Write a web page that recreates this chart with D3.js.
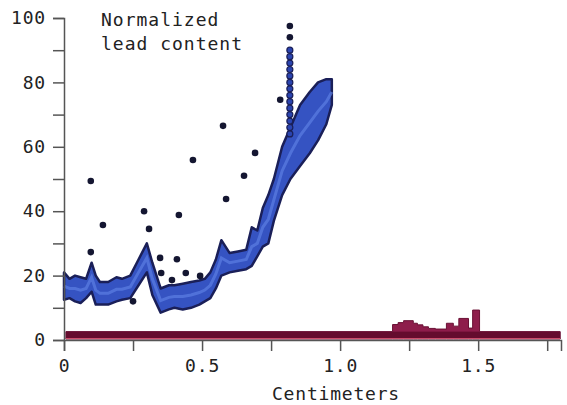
<!DOCTYPE html>
<html>
<head>
<meta charset="utf-8">
<script src="https://cdn.jsdelivr.net/npm/d3@7"></script>
<style>
  body { margin: 0; background: #fff; }
  text { font-family: "DejaVu Sans Mono", monospace; fill: #222; }
</style>
</head>
<body>
<div id="chart"></div>
<script>
// Blue band: sampled positions (cm) with upper / lower edge values
var bandX = [0, 0.02, 0.04, 0.06, 0.08, 0.10, 0.115, 0.13, 0.16, 0.19, 0.21, 0.24, 0.27, 0.30, 0.32, 0.35,
  0.38, 0.40, 0.43, 0.46, 0.49, 0.51, 0.53, 0.55, 0.57, 0.60, 0.63, 0.66, 0.68, 0.70, 0.72, 0.74,
  0.76, 0.79, 0.82, 0.855, 0.89, 0.92, 0.95, 0.97];
var bandUpper = [21, 19, 20, 19.5, 19, 24, 20, 18, 18, 19.5, 19, 20, 25, 30, 24, 16,
  17, 17, 17.5, 18, 18.5, 19, 21, 25, 31, 27, 27.5, 28, 35, 34, 41, 45,
  50, 60, 66, 73, 77, 80, 81, 81];
var bandLower = [12.5, 13, 12, 11.5, 13, 15, 11, 11, 11, 12, 12.5, 13, 17, 21, 14, 8.5,
  9.5, 10, 9.5, 10, 11, 12, 13, 16, 20, 21, 21.5, 22, 23, 26, 29, 30,
  37, 45, 50, 54, 58, 62, 67, 73];

// Column of points at ~0.82 cm
var spikeX = 0.818;
var spikeValues = [90, 88, 86, 84, 82, 80, 78, 76, 74, 72, 70, 68, 66, 64];

// Dark outlier dots
var dotX = [0.097, 0.141, 0.097, 0.290, 0.308, 0.348, 0.416, 0.409, 0.391, 0.441, 0.352, 0.467,
  0.576, 0.587, 0.652, 0.692, 0.783, 0.818, 0.818, 0.25, 0.493];
var dotY = [49.4, 35.7, 27.3, 40, 34.5, 25.5, 38.8, 25.1, 18.6, 20.8, 20.8, 55.9,
  66.5, 43.8, 51, 58.1, 74.6, 97.5, 94, 12, 19.9];

// Maroon lead trace (step starts in cm, heights)
var leadX = [0.007, 1.19, 1.21, 1.23, 1.265, 1.28, 1.30, 1.32, 1.345, 1.385, 1.41, 1.43, 1.465, 1.48, 1.505, 1.797];
var leadY = [2.6, 4.8, 5.4, 6.0, 5.2, 4.7, 4.1, 3.6, 3.4, 5.2, 4.3, 6.7, 3.7, 9.3, 2.6, 2.6];
var leadBase = 0.3;

var xTicks = [0, 0.25, 0.5, 0.75, 1.0, 1.25, 1.5, 1.75];
var xLabels = { 0: "0", 0.5: "0.5", 1: "1.0", 1.5: "1.5" };
var yTicks = [0, 10, 20, 30, 40, 50, 60, 70, 80, 90, 100];

var width = 567, height = 405;
var svg = d3.select("#chart").append("svg")
  .attr("width", width).attr("height", height);

var x = d3.scaleLinear().domain([0, 1.8]).range([64, 561]);
var y = d3.scaleLinear().domain([0, 100]).range([340, 18]);

// Lead trace
var lead = leadX.map(function (d, i) { return { x: d, y: leadY[i] }; });
svg.append("path")
  .datum(lead)
  .attr("d", d3.area()
    .curve(d3.curveStepAfter)
    .x(function (d) { return x(d.x); })
    .y0(y(leadBase))
    .y1(function (d) { return y(d.y); }))
  .attr("fill", "#8e1d4b")
  .attr("stroke", "#6a1034")
  .attr("stroke-width", 1);
svg.append("rect")
  .attr("x", x(leadX[0])).attr("y", y(leadY[0]))
  .attr("width", x(leadX[leadX.length - 1]) - x(leadX[0]))
  .attr("height", y(leadBase) - y(leadY[0]))
  .attr("fill", "#650c2e");
svg.append("line")
  .attr("x1", x(leadX[0])).attr("x2", x(leadX[leadX.length - 1]))
  .attr("y1", y(leadBase) - 0.5).attr("y2", y(leadBase) - 0.5)
  .attr("stroke", "#d0506e").attr("stroke-width", 1);

// Blue band
var band = bandX.map(function (d, i) { return { x: d, hi: bandUpper[i], lo: bandLower[i] }; });
svg.append("path")
  .datum(band)
  .attr("d", d3.area()
    .x(function (d) { return x(d.x); })
    .y0(function (d) { return y(d.lo); })
    .y1(function (d) { return y(d.hi); }))
  .attr("fill", "#3553c2")
  .attr("stroke", "#1a1f58")
  .attr("stroke-width", 2.5)
  .attr("stroke-linejoin", "round");
svg.append("path")
  .datum(band)
  .attr("d", d3.line()
    .x(function (d) { return x(d.x); })
    .y(function (d) { return y((d.hi + d.lo) / 2); }))
  .attr("fill", "none")
  .attr("stroke", "#5d7fe2")
  .attr("stroke-opacity", 0.7)
  .attr("stroke-width", 3);

// Spike column
svg.selectAll(".spike")
  .data(spikeValues)
  .enter().append("circle")
  .attr("class", "spike")
  .attr("cx", x(spikeX))
  .attr("cy", function (d) { return y(d); })
  .attr("r", 3)
  .attr("fill", "#2a44b0")
  .attr("stroke", "#1a1f58")
  .attr("stroke-width", 1.2);

// Outlier dots
svg.selectAll(".dot")
  .data(dotX)
  .enter().append("circle")
  .attr("class", "dot")
  .attr("cx", function (d) { return x(d); })
  .attr("cy", function (d, i) { return y(dotY[i]); })
  .attr("r", 3.3)
  .attr("fill", "#141631");

// Axes
var axisColor = "#555";
var xAxis = svg.append("g")
  .attr("transform", "translate(0," + y(0) + ")")
  .call(d3.axisBottom(x).tickValues(xTicks).tickSize(11).tickPadding(8)
    .tickFormat(function (d) { return xLabels[d] || ""; }));
var yAxis = svg.append("g")
  .attr("transform", "translate(" + x(0) + ",0)")
  .call(d3.axisLeft(y).tickValues(yTicks).tickSize(11).tickPadding(7)
    .tickFormat(function (d) { return d % 20 === 0 ? d : ""; }));

[xAxis, yAxis].forEach(function (g) {
  g.select(".domain").attr("stroke", axisColor).attr("stroke-width", 1.5);
  g.selectAll(".tick line").attr("stroke", axisColor).attr("stroke-width", 1.5);
  g.selectAll(".tick text")
    .style("font-family", "DejaVu Sans Mono, monospace")
    .style("font-size", "18px")
    .style("letter-spacing", "0.8px")
    .attr("fill", "#222");
});

// Labels
svg.append("text")
  .attr("x", 336).attr("y", 400)
  .attr("text-anchor", "middle")
  .style("font-size", "18px")
  .style("letter-spacing", "0.8px")
  .text("Centimeters");

var title = svg.append("text")
  .attr("x", 101).attr("y", 26)
  .style("font-size", "18px")
  .style("letter-spacing", "1px");
title.append("tspan").attr("x", 101).attr("dy", 0).text("Normalized");
title.append("tspan").attr("x", 101).attr("dy", 24).text("lead content");
</script>
</body>
</html>
